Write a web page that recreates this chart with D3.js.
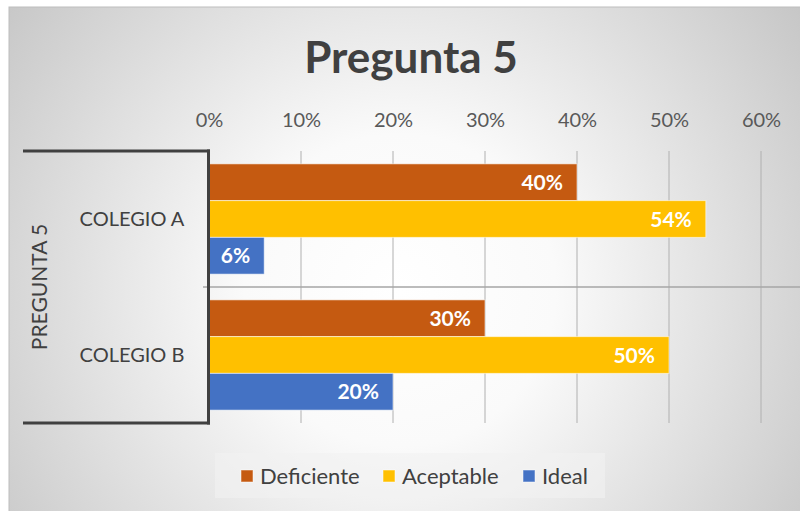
<!DOCTYPE html>
<html><head><meta charset="utf-8">
<script src="https://cdn.jsdelivr.net/npm/d3@7"></script>
<style>html,body{margin:0;padding:0;background:#fff;}svg{display:block;}</style>
</head><body>
<svg id="chart" width="800" height="511"></svg>
<script>
const title = "Pregunta 5";
const groupLabel = "PREGUNTA 5";
const categories = ["COLEGIO A", "COLEGIO B"];
const series = ["Deficiente", "Aceptable", "Ideal"];
const deficiente = [0.40, 0.30];
const aceptable = [0.54, 0.50];
const ideal = [0.06, 0.20];
const ticks = [0, 0.1, 0.2, 0.3, 0.4, 0.5, 0.6];
const colors = ["#C55A11", "#FFC000", "#4472C4"];

const values = [deficiente, aceptable, ideal];
const data = categories.map((c, i) => ({cat: c, vals: series.map((s, j) => ({s, v: values[j][i], color: colors[j]}))}));

const svg = d3.select("#chart");
const font = "Lato, 'Noto Sans', sans-serif";

// background
const defs = svg.append("defs");
const rg = defs.append("radialGradient").attr("id", "bg").attr("gradientUnits", "userSpaceOnUse")
  .attr("cx", 400).attr("cy", 290).attr("r", 520);
rg.append("stop").attr("offset", "0%").attr("stop-color", "#ffffff");
rg.append("stop").attr("offset", "30%").attr("stop-color", "#fafafa");
rg.append("stop").attr("offset", "100%").attr("stop-color", "#c2c2c2");
svg.append("rect").attr("x", 9).attr("y", 7).attr("width", 800).attr("height", 520)
  .attr("fill", "url(#bg)").attr("stroke", "#bdbdbd").attr("stroke-width", 1);

const x = d3.scaleLinear().domain([0, 0.6]).range([209, 761]);
const y0 = d3.scaleBand().domain(categories).range([151, 423]).paddingInner(0);
const y1 = d3.scaleBand().domain(series).range([0, y0.bandwidth()]).paddingInner(0).paddingOuter(0.35);

// gridlines
svg.append("g").selectAll("line").data(ticks.slice(1)).join("line")
  .attr("x1", d => x(d)).attr("x2", d => x(d)).attr("y1", 151).attr("y2", 423)
  .attr("stroke", "#b0b0b0").attr("stroke-width", 1);

// separator between categories
svg.append("line").attr("x1", 203).attr("x2", 800).attr("y1", y0("COLEGIO B")).attr("y2", y0("COLEGIO B"))
  .attr("stroke", "#a6a6a6").attr("stroke-width", 1.5);

// top axis
const ax = svg.append("g").attr("transform", "translate(0,120)")
  .call(d3.axisTop(x).tickValues(ticks).tickFormat(d3.format(".0%")).tickSize(0).tickPadding(0));
ax.select(".domain").remove();
ax.selectAll("text").attr("font-family", font).attr("font-size", 20).attr("fill", "#595959")
  .attr("dy", "0.35em");

// bars
const g = svg.append("g").selectAll("g").data(data).join("g")
  .attr("transform", d => `translate(0,${y0(d.cat)})`);
g.selectAll("rect").data(d => d.vals).join("rect")
  .attr("x", x(0)).attr("y", d => y1(d.s)).attr("width", d => x(d.v) - x(0)).attr("height", y1.bandwidth())
  .attr("fill", d => d.color).attr("stroke", "#ffffff").attr("stroke-opacity", 0.55).attr("stroke-width", 1);
g.selectAll("text").data(d => d.vals).join("text")
  .attr("x", d => x(d.v) - 14).attr("y", d => y1(d.s) + y1.bandwidth() / 2)
  .attr("dy", "0.36em").attr("text-anchor", "end")
  .attr("font-family", font).attr("font-weight", "bold").attr("font-size", 21).attr("fill", "#ffffff")
  .text(d => d3.format(".0%")(d.v));

// category axis
svg.append("line").attr("x1", 208.5).attr("x2", 208.5).attr("y1", 149.5).attr("y2", 424.5)
  .attr("stroke", "#404040").attr("stroke-width", 3);
[151, 423].forEach(yy => {
  svg.append("line").attr("x1", 23).attr("x2", 210).attr("y1", yy).attr("y2", yy)
    .attr("stroke", "#404040").attr("stroke-width", 3);
});
svg.append("g").selectAll("text").data(categories).join("text")
  .attr("x", 132).attr("y", d => y0(d) + y0.bandwidth() / 2)
  .attr("dy", "0.35em").attr("text-anchor", "middle")
  .attr("font-family", font).attr("font-size", 20).attr("fill", "#404040")
  .text(d => d);
svg.append("text").attr("transform", "translate(40,287) rotate(-90)")
  .attr("dy", "0.35em").attr("text-anchor", "middle")
  .attr("font-family", font).attr("font-size", 21).attr("fill", "#404040")
  .text(groupLabel);

// title
svg.append("text").attr("x", 411).attr("y", 73).attr("text-anchor", "middle")
  .attr("font-family", font).attr("font-weight", "bold").attr("font-size", 44).attr("fill", "#404040")
  .text(title);

// legend
svg.append("rect").attr("x", 215).attr("y", 453).attr("width", 390).attr("height", 45)
  .attr("fill", "#f2f2f2").attr("fill-opacity", 0.6);
const legX = [241, 383, 523];
const lg = svg.append("g").selectAll("g").data(series).join("g")
  .attr("transform", (d, i) => `translate(${legX[i]},476)`);
lg.append("rect").attr("x", 0).attr("y", -6).attr("width", 12).attr("height", 12)
  .attr("fill", (d, i) => colors[i]).attr("stroke", "#ffffff").attr("stroke-opacity", 0.5);
lg.append("text").attr("x", 19).attr("dy", "0.35em")
  .attr("font-family", font).attr("font-size", 22).attr("fill", "#404040")
  .text(d => d);
</script>
</body></html>
